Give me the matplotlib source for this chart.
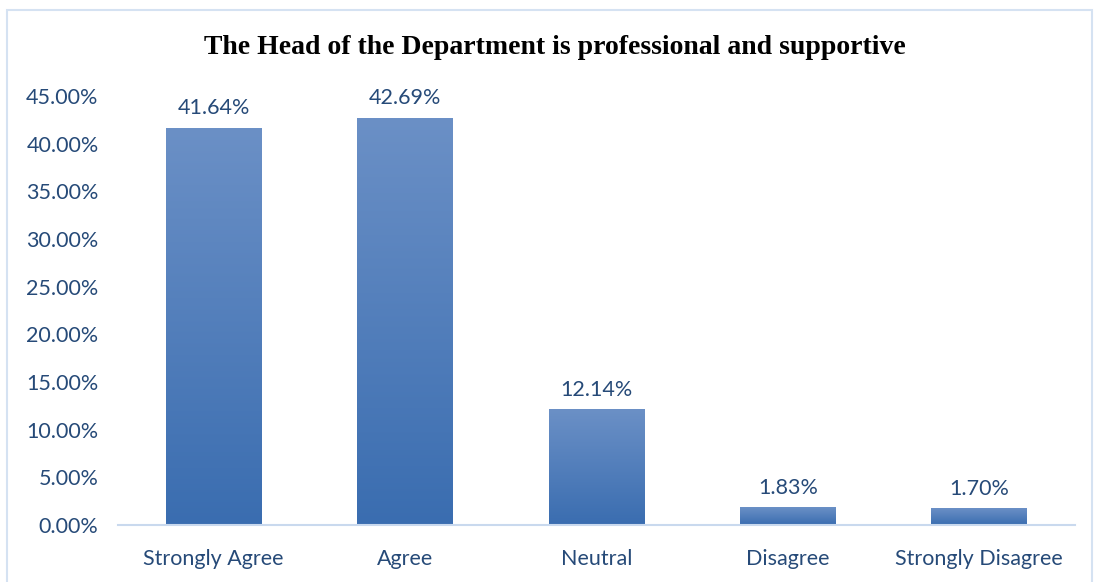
import numpy as np
import matplotlib.pyplot as plt
from matplotlib.patches import Rectangle

categories = ["Strongly Agree", "Agree", "Neutral", "Disagree", "Strongly Disagree"]
values = [41.64, 42.69, 12.14, 1.83, 1.70]
yticks = [0, 5, 10, 15, 20, 25, 30, 35, 40, 45]

text_color = "#264a78"
top_color = np.array([0x6b, 0x90, 0xc6]) / 255
bottom_color = np.array([0x3a, 0x6d, 0xb0]) / 255

fig = plt.figure(figsize=(10.99, 5.82), dpi=100)
ax = fig.add_axes([118 / 1099, 1 - 525 / 582, 957 / 1099, 429 / 582])

# outer chart frame
fig.patches.append(Rectangle((7 / 1099, -0.05), 1085 / 1099, 1.05 - 10 / 582,
                             transform=fig.transFigure, fill=False,
                             edgecolor="#d5e2f2", linewidth=1.5))

x = np.arange(len(categories))
bars = ax.bar(x, values, width=0.5, color="none", edgecolor="none")

# vertical gradient inside each bar
grad = np.linspace(0, 1, 256)[:, None, None]
img = top_color * (1 - grad) + bottom_color * grad
for b in bars:
    x0, w, h = b.get_x(), b.get_width(), b.get_height()
    ax.imshow(img, extent=(x0, x0 + w, 0, h), aspect="auto", origin="upper",
              zorder=2, interpolation="bilinear")
    ax.text(x0 + w / 2, h + 1.0, f"{h:.2f}%", ha="center", va="bottom",
            fontsize=15.5, color=text_color, family="Lato")

ax.set_xlim(-0.5, len(categories) - 0.5)
ax.set_ylim(0, 45)
ax.set_yticks(yticks)
ax.set_yticklabels([f"{v:.2f}%" for v in yticks])
ax.set_xticks(x)
ax.set_xticklabels(categories)
ax.tick_params(axis="both", length=0, labelsize=15.5, colors=text_color)
ax.tick_params(axis="y", pad=14)
ax.tick_params(axis="x", pad=17)
for lbl in ax.get_xticklabels() + ax.get_yticklabels():
    lbl.set_family("Lato")

for s in ["top", "right", "left"]:
    ax.spines[s].set_visible(False)
ax.spines["bottom"].set_color("#c9d9ee")
ax.spines["bottom"].set_linewidth(1.5)

fig.text(555 / 1099, 1 - 48 / 582, "The Head of the Department is professional and supportive",
         ha="center", va="center", fontsize=20, fontweight="bold",
         family="Liberation Serif", color="black")

fig.savefig("out.png", dpi=100)
